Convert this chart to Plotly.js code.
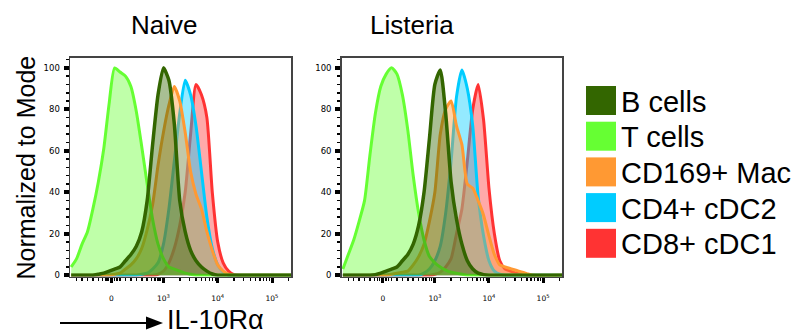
<!DOCTYPE html>
<html>
<head>
<meta charset="utf-8">
<script src="https://cdn.plot.ly/plotly-3.0.1.min.js"></script>
<style>html,body{margin:0;padding:0;background:#fff;}#chart{width:802px;height:336px;}</style>
</head>
<body>
<div id="chart"></div>
<script>
// x positions in decade units of the biexponential display (3 = 10^3)
const xGrid = [1.3,1.4,1.5,1.6,1.7,1.8,1.9,2.0,2.1,2.2,2.3,2.4,2.5,2.6,2.7,2.8,2.9,3.0,3.1,3.2,3.3,3.4,3.5,3.6,3.7,3.8,3.9,4.0,4.1,4.2,4.3,4.4,4.5,4.6,4.7,4.8,5.4];

const cellNames = ['B cells','T cells','CD169+ Mac','CD4+ cDC2','CD8+ cDC1'];
const cellColors = ['#336600','#66ff33','#ff9933','#00ccff','#ff3333'];
const panelTitles = ['Naive','Listeria'];
const axisLabel = 'IL-10R\u03b1';
const yTitle = 'Normalized to Mode';

// Naive
const naiveB   = [0,0,0,0,0,0.5,1,2,3,4,7,10,14,21,36,63,87,100,94,73,36,21,12,7,4,2,0.6,0,0,0,0,0,0,0,0,0,0];
const naiveT   = [4,8,15,21,32,45,61,83,100,98,96,91,79,62,44,27,15,8,4,3,2,1,0.5,0,0,0,0,0,0,0,0,0,0,0,0,0,0];
const naiveMac = [0,0,0,0,0,0,0,0,0.5,1,3,5,8,13,22,34,53,69,82,91,84,69,50,39,32,21,12,5,2,0.5,0,0,0,0,0,0,0];
const naiveCD4 = [0,0,0,0,0,0,0,0,0,0,0,0,0,0.5,1,3,6,15,32,55,78,94,87,72,50,28,13,5,1.5,0,0,0,0,0,0,0,0];
const naiveCD8 = [0,0,0,0,0,0,0,0,0,0,0,0,0,0,0,0,0.5,2,6,13,24,40,68,92,87,76,40,16,6,2,0.3,0,0,0,0,0,0];

// Listeria
const listB   = [0,0,0,0,0,0,0.3,1,2,3,4,7,10,15,24,40,66,92,99,78,45,27,15,7,3,1,0.3,0,0,0,0,0,0,0,0,0,0];
const listT   = [3,10,17,26,36,58,78,91,97,100,97,87,70,48,30,17,9,6,4,2.5,1.5,1,0.5,0,0,0,0,0,0,0,0,0,0,0,0,0,0];
const listMac = [0,0,0,0,0,0,0,0,0,0.5,1,1.5,2,5,9,15,26,40,68,80,84,72,63,44,42,36,29,19,10,5,4,3.2,2.4,1.6,0.8,0,0];
const listCD4 = [0,0,0,0,0,0,0,0,0,0,0,0,0,0,0,1,3,7,14,30,55,86,99,90,72,38,19,7,2,0.5,0,0,0,0,0,0,0];
const listCD8 = [0,0,0,0,0,0,0,0,0,0,0,0,0,0,0,0,0,0.5,1.5,4,8,20,32,55,80,92,75,42,20,7,3,2,1,0.5,0,0,0];

const panels = [
  [naiveB, naiveT, naiveMac, naiveCD4, naiveCD8],
  [listB, listT, listMac, listCD4, listCD8]
];

function rgba(hex, a){
  const n = parseInt(hex.slice(1),16);
  return 'rgba(' + ((n>>16)&255) + ',' + ((n>>8)&255) + ',' + (n&255) + ',' + a + ')';
}

const drawOrder = [4,3,2,1,0];
const traces = [];
panels.forEach((series, p) => {
  drawOrder.forEach(i => {
    traces.push({
      type:'scatter', mode:'lines', x:xGrid, y:series[i],
      xaxis: p===0 ? 'x' : 'x2', yaxis: p===0 ? 'y' : 'y2',
      fill:'tozeroy', fillcolor: rgba(cellColors[i], 0.42),
      line:{color:cellColors[i], width: i===0 ? 3.5 : 3, shape:'spline', smoothing:0.6},
      name: cellNames[i], showlegend:false, hoverinfo:'skip'
    });
  });
});

// axis ticks of the biexponential display
const majorX = [2.04,3,4,5];
const majorText = ['0','10<sup>3</sup>','10<sup>4</sup>','10<sup>5</sup>'];
const minorX = [1.4,1.5,1.6,1.7,1.8,1.88,1.94,1.98,2.1,2.14,2.2,2.3,2.4,2.5,2.6,2.7,2.78,2.84,2.9,2.94];
for (const d of [3,4,5]) for (let k=2;k<=9;k++){ const v=d+Math.log10(k); if (v<5.33) minorX.push(v); }

const W = 802, H = 336;
function xAxis(d0, d1){
  return {
    domain:[d0/W, d1/W], range:[1.278, 5.35], showgrid:false, zeroline:false,
    showline:true, mirror:true, linecolor:'#444', linewidth:1.5,
    tickmode:'array', tickvals:majorX, ticktext:majorText,
    ticks:'outside', ticklen:5, tickwidth:3, tickcolor:'#000',
    ticklabelstandoff:9,
    tickfont:{family:'DejaVu Sans', size:7.5, color:'#000'},
    minor:{tickmode:'array', tickvals:minorX, ticks:'outside', ticklen:3, tickwidth:1.5, tickcolor:'#000'},
    fixedrange:true
  };
}
function yAxis(anchor){
  return {
    domain:[(H-276.5)/H, (H-57.5)/H], range:[-0.6, 105], showgrid:false, zeroline:false,
    showline:true, mirror:true, linecolor:'#444', linewidth:1.5,
    tickmode:'array', tickvals:[0,20,40,60,80,100],
    ticks:'outside', ticklen:5, tickwidth:4, tickcolor:'#000',
    ticklabelstandoff:2,
    tickfont:{family:'DejaVu Sans', size:8.5, color:'#000'},
    minor:{dtick:4, tick0:0, ticks:'outside', ticklen:3, tickwidth:1.5, tickcolor:'#000'},
    anchor:anchor, fixedrange:true
  };
}

const annotations = [];
const shapes = [];
const font = 'Arial, Liberation Sans, sans-serif';
const titleX = [164, 412];
panelTitles.forEach((t,i) => annotations.push({
  text:t, xref:'paper', yref:'paper', x:titleX[i]/W, y:(H-25)/H,
  xanchor:'center', yanchor:'middle', showarrow:false,
  font:{family:font, size:26, color:'#000'}
}));
annotations.push({
  text:yTitle, xref:'paper', yref:'paper', x:25/W, y:(H-167.5)/H, textangle:-90,
  xanchor:'center', yanchor:'middle', showarrow:false,
  font:{family:font, size:25, color:'#000'}
});
annotations.push({
  text:axisLabel, xref:'paper', yref:'paper', x:166/W, y:0,
  xanchor:'left', yanchor:'bottom', showarrow:false, borderpad:0,
  font:{family:font, size:27, color:'#000'}
});
// arrow of the axis label
const ay = (H-323)/H;
shapes.push({type:'line', xref:'paper', yref:'paper', x0:60/W, x1:150/W, y0:ay, y1:ay,
  line:{color:'#000', width:2}});
shapes.push({type:'path', xref:'paper', yref:'paper',
  path:'M ' + (146/W) + ' ' + ((H-316.5)/H) + ' L ' + (163/W) + ' ' + ay + ' L ' + (146/W) + ' ' + ((H-329.5)/H) + ' Z',
  fillcolor:'#000', line:{width:0}});
cellNames.forEach((n,i) => {
  const cy = 100.5 + 35.7*i;
  shapes.push({
    type:'rect', xref:'paper', yref:'paper',
    x0:586/W, x1:616/W, y0:(H-(cy+14.5))/H, y1:(H-(cy-14.5))/H,
    fillcolor:cellColors[i], line:{width:0}
  });
  annotations.push({
    text:n, xref:'paper', yref:'paper', x:619/W, y:(H-cy-1)/H,
    xanchor:'left', yanchor:'middle', showarrow:false,
    font:{family:font, size:29, color:'#000'}
  });
});

const layout = {
  width:W, height:H, margin:{l:0,r:0,t:0,b:0},
  paper_bgcolor:'#fff', plot_bgcolor:'#fff', showlegend:false,
  xaxis: Object.assign(xAxis(70, 291), {anchor:'y'}),
  yaxis: yAxis('x'),
  xaxis2: Object.assign(xAxis(341.7, 562), {anchor:'y2'}),
  yaxis2: yAxis('x2'),
  annotations, shapes
};

Plotly.newPlot('chart', traces, layout, {displayModeBar:false, staticPlot:true});
</script>
</body>
</html>
